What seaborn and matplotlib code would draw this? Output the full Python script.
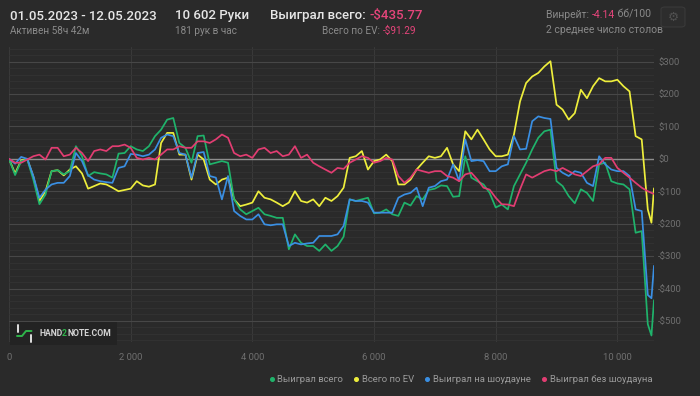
import matplotlib
matplotlib.use("Agg")
import matplotlib.pyplot as plt
import seaborn as sns
import pandas as pd
from matplotlib.lines import Line2D
from matplotlib.patches import FancyBboxPatch, Rectangle
from matplotlib.ticker import MultipleLocator, FuncFormatter

# hands played (sample points along the session)
hands = list(range(0, 10501, 100)) + [10560, 10602]

# Выиграл всего
won_total = [
    0, -50, -7, -2, -64, -140, -110, -38, -35, -48,
    -38, 39, 8, -53, -41, -45, -48, -58, 16, 18,
    39, 29, 24, 39, 70, 90, 121, 126, 49, 34,
    -12, 70, 72, -17, -12, -7, -12, -125, -156, -171,
    -161, -151, -171, -176, -182, -182, -279, -233, -259, -269,
    -269, -284, -264, -284, -269, -240, -125, -130, -125, -120,
    -168, -166, -156, -171, -176, -135, -144, -115, -125, -96,
    -92, -82, -84, -117, -115, 8, -58, -69, -79, -105,
    -150, -141, -156, -84, -48, -12, 29, 65, 85, 90,
    -69, -84, -115, -137, -94, -105, -130, -17, -12, -69,
    -76, -79, -94, -228, -223, -510, -545, -436,
]

# Всего по EV
ev_total = [
    0, -45, -5, 0, -55, -130, -100, -38, -35, -51,
    -33, -23, -45, -92, -84, -76, -79, -89, -100, -96,
    -92, -69, -82, -86, -79, 49, 80, 80, 13, 13,
    -64, 13, -2, -64, -79, -64, -58, -125, -146, -141,
    -135, -100, -120, -125, -135, -146, -135, -100, -130, -135,
    -125, -146, -120, -130, -115, -89, 3, 8, 24, -33,
    -7, -2, 13, -7, -79, -79, -64, -33, -12, 8,
    3, 8, 34, -17, -38, 85, 60, 90, 60, 29,
    8, 8, 13, 75, 177, 234, 254, 265, 285, 301,
    167, 152, 121, 141, 213, 187, 224, 249, 239, 239,
    244, 224, 208, 70, 60, -156, -197, -91,
]

# Выиграл на шоудауне
won_showdown = [
    0, -15, 6, 0, -53, -120, -95, -79, -74, -74,
    -53, 18, -7, -51, -64, -69, -72, -74, -28, -23,
    15, 13, 8, 13, 29, 65, 75, 70, 18, 13,
    -58, 18, 21, -53, -58, -125, -53, -161, -176, -187,
    -187, -171, -202, -205, -202, -202, -269, -259, -264, -261,
    -259, -238, -238, -238, -233, -207, -125, -130, -130, -135,
    -166, -166, -166, -166, -120, -110, -105, -89, -146, -89,
    -84, -69, -64, -17, -69, 60, -7, -4, -7, -38,
    -38, -23, -17, 70, 29, 31, 116, 131, 126, 123,
    -28, -43, -53, -38, -43, -74, -84, 8, -17, -33,
    -38, -38, -53, -156, -161, -420, -430, -330,
]

# Выиграл без шоудауна
won_no_showdown = [
    0, -12, -12, -2, 8, 13, -2, 34, 34, 8,
    13, 34, 18, -7, 24, 29, 24, 39, 39, 44,
    34, 3, -2, 3, -2, 13, 29, 29, 39, 34,
    34, 54, 54, 49, 60, 75, 65, 18, 8, 13,
    3, 29, 34, 18, 24, 8, 13, 39, 3, 13,
    -12, -23, -33, -43, -28, -31, -12, -2, 8, 3,
    -12, -7, 3, -2, -53, -74, -58, -33, -38, -43,
    -38, -38, -53, -58, -69, -48, -43, -64, -89, -95,
    -120, -140, -141, -146, -94, -48, -58, -48, -38, -33,
    -38, -28, -38, -48, -53, -38, -23, -17, 3, 3,
    -28, -43, -58, -74, -89, -100, -105, -108,
]

series_names = ["Выиграл всего", "Всего по EV", "Выиграл на шоудауне", "Выиграл без шоудауна"]
series_colors = ["#1fb36b", "#eeee3c", "#3a8fe3", "#e23d72"]

BG = "#2a2a2a"
W, H = 700, 396

sns.set_style("dark")
plt.rcParams["font.family"] = ["Roboto", "DejaVu Sans"]

df = pd.concat([
    pd.DataFrame({"hands": hands, "value": vals, "series": name})
    for name, vals in zip(series_names, [won_total, ev_total, won_showdown, won_no_showdown])
])

fig = plt.figure(figsize=(W / 100, H / 100), dpi=100, facecolor=BG)
ax = fig.add_axes([9 / W, 1 - 342 / H, (654 - 9) / W, (342 - 47) / H])
ax.set_facecolor(BG)

# draw order: EV under the others
draw_order = ["Всего по EV", "Выиграл всего", "Выиграл на шоудауне", "Выиграл без шоудауна"]
sns.lineplot(data=df, x="hands", y="value", hue="series", hue_order=draw_order,
             palette=dict(zip(series_names, series_colors)), estimator=None, sort=False,
             linewidth=1.25, legend=False, ax=ax)

ax.set_xlim(0, 10602)
ax.set_ylim(-565, 345)
ax.xaxis.set_major_locator(MultipleLocator(2000))
ax.yaxis.set_major_locator(MultipleLocator(100))
ax.yaxis.set_minor_locator(MultipleLocator(20))
ax.grid(which="major", axis="y", color="#474747", lw=0.8)
ax.grid(which="minor", axis="y", color="#333333", lw=0.6)
ax.grid(which="major", axis="x", color="#393939", lw=0.8)
ax.axhline(0, color="#8e8e8e", lw=1.0, zorder=1.5)
for s in ax.spines.values():
    s.set_visible(False)

ax.yaxis.tick_right()
ax.yaxis.set_major_formatter(FuncFormatter(lambda v, _: f"-${abs(v):.0f}" if v < 0 else f"${v:.0f}"))
ax.xaxis.set_major_formatter(FuncFormatter(lambda v, _: f"{int(v):,}".replace(",", " ")))
ax.tick_params(axis="y", which="both", length=0, pad=3, labelsize=6.8, labelcolor="#6f6f6f")
ax.tick_params(axis="x", length=0, pad=8, labelsize=6.8, labelcolor="#6f6f6f")
ax.set_xlabel("")
ax.set_ylabel("")

# legend with dots
handles = [Line2D([], [], ls="none", marker="o", ms=2.6, color=c) for c in series_colors]
fig.legend(handles, series_names, loc="center right", bbox_to_anchor=(656 / W, 1 - 380 / H),
           ncol=4, frameon=False, fontsize=6.8, labelcolor="#9b9b9b",
           handletextpad=0.3, columnspacing=1.1, handlelength=0.6, borderaxespad=0)

renderer = fig.canvas.get_renderer()


def rich(x, y, parts, size, weight="normal"):
    for s, c in parts:
        t = fig.text(x / W, 1 - y / H, s, color=c, fontsize=size, va="center", ha="left",
                     fontweight=weight, zorder=5)
        x += t.get_window_extent(renderer=renderer).width


PINK = "#e6457b"
WHITE = "#e6e6e6"
GREY = "#8a8a8a"

rich(10, 16, [("01.05.2023 - 12.05.2023", WHITE)], 9.5, "medium")
rich(10, 31, [("Активен 58ч 42м", GREY)], 7.2)
rich(175, 16, [("10 602 Руки", WHITE)], 9.5, "medium")
rich(175, 31, [("181 рук в час", GREY)], 7.2)
rich(270, 16, [("Выиграл всего: ", WHITE), ("-$435.77", PINK)], 9.5, "medium")
rich(322, 31, [("Всего по EV: ", GREY), ("-$91.29", PINK)], 7.2)
rich(546, 15, [("Винрейт: ", GREY), ("-4.14", PINK), (" бб/100", GREY)], 7.5)
rich(546, 30, [("2 среднее число столов", GREY)], 7.5)

# settings button
fig.patches.append(FancyBboxPatch((661 / W, 1 - 27 / H), 24 / W, 20 / H,
                                  boxstyle="round,pad=0,rounding_size=0.006",
                                  transform=fig.transFigure, fc="#2d2d2d", ec="#3a3a3a", lw=0.8))
fig.text(673 / W, 1 - 17 / H, "⚙", fontsize=9, color="#505050", ha="center", va="center",
         family="DejaVu Sans")

# watermark
fig.patches.append(Rectangle((10 / W, 1 - 345 / H), 107 / W, 23 / H, transform=fig.transFigure,
                             fc="#232323", ec="none", zorder=3))
LOGO_G = "#2fb34a"
fig.lines.append(Line2D([17.5 / W, 17.5 / W], [1 - 325 / H, 1 - 332 / H], transform=fig.transFigure,
                        color="#e0e0e0", lw=1.4, zorder=4))
fig.lines.append(Line2D([31 / W, 31 / W], [1 - 335 / H, 1 - 342 / H], transform=fig.transFigure,
                        color="#e0e0e0", lw=1.4, zorder=4))
fig.lines.append(Line2D([17 / W, 22 / W, 26 / W, 31.5 / W], [1 - 336 / H, 1 - 336 / H, 1 - 331 / H, 1 - 331 / H],
                        transform=fig.transFigure, color=LOGO_G, lw=1.4, zorder=4))
rich(39, 333, [("HAND", "#d4d4d4"), ("2", LOGO_G), ("NOTE.COM", "#d4d4d4")], 6.2, "bold")

fig.savefig("out.png", dpi=100, facecolor=BG)
